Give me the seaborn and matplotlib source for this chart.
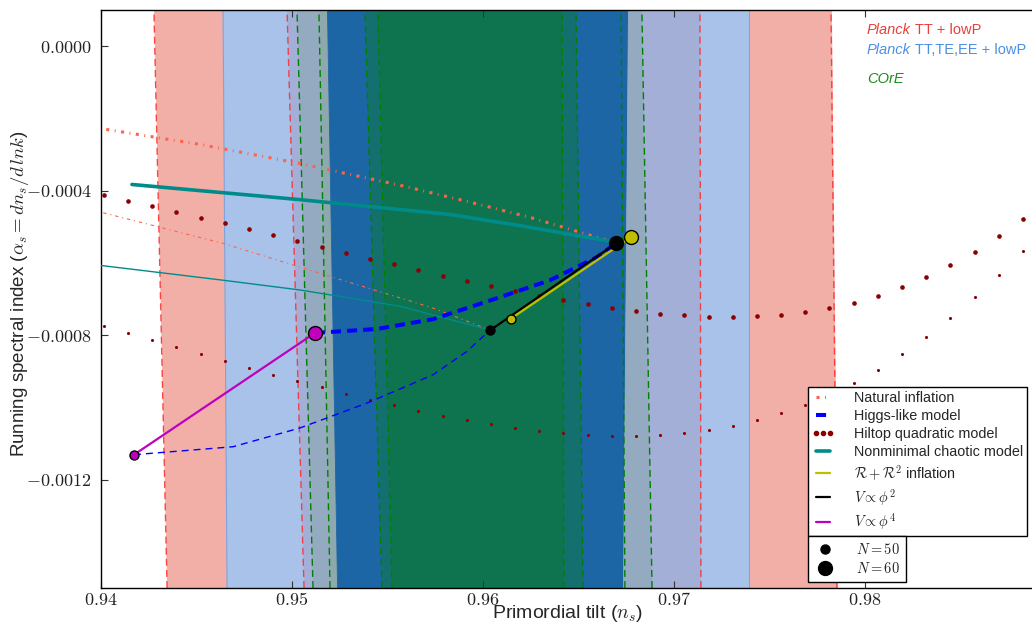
import matplotlib
matplotlib.use("Agg")
import matplotlib.pyplot as plt
from matplotlib.lines import Line2D
import seaborn as sns

sns.set_style("ticks")
plt.rcParams["font.family"] = ["Liberation Sans", "DejaVu Sans"]
plt.rcParams["mathtext.fontset"] = "cm"

# ---------------------------------------------------------------- ranges
ns_range = [0.94, 0.99]
alpha_range = [-0.0015, 0.0001]          # bottom, top

# --------------------------------------- constraint contour edges in n_s
# each edge is given as [n_s at bottom of the alpha range, n_s at top]
r95_lo = [0.94346, 0.94277]
tte95_lo = [0.94660, 0.94639]
r68_lo = [0.95063, 0.94974]
c95a_lo = [0.95110, 0.95026]
c95b_lo = [0.95199, 0.95141]
tte68_lo = [0.95236, 0.95183]
c68a_lo = [0.95471, 0.95382]
c68b_lo = [0.95524, 0.95450]
c68b_hi = [0.96424, 0.96414]
c68a_hi = [0.96524, 0.96487]
c95b_hi = [0.96743, 0.96723]
tte68_hi = [0.96733, 0.96759]
c95a_hi = [0.96885, 0.96832]
r68_hi = [0.97141, 0.97136]
tte95_hi = [0.97393, 0.97393]
r95_hi = [0.97853, 0.97822]

LIGHT_RED = "#F2AFA8"
LIGHT_BLUE = "#A8C2EA"
LAVENDER = "#A4AFD8"
GREY = "#94AAC0"
GREY_GREEN = "#8EA9AE"
DARK_BLUE = "#1C66A6"
TEAL = "#13706E"
GREEN = "#0E744F"

strips = [
    (r95_lo, tte95_lo, LIGHT_RED),
    (tte95_lo, r68_lo, LIGHT_BLUE),
    (r68_lo, c95a_lo, LAVENDER),
    (c95a_lo, c95b_lo, GREY),
    (c95b_lo, tte68_lo, GREY_GREEN),
    (tte68_lo, c68a_lo, DARK_BLUE),
    (c68a_lo, c68b_lo, TEAL),
    (c68b_lo, c68b_hi, GREEN),
    (c68b_hi, c68a_hi, TEAL),
    (c68a_hi, tte68_hi, DARK_BLUE),
    (tte68_hi, c95a_hi, GREY),
    (c95a_hi, r68_hi, LAVENDER),
    (r68_hi, tte95_hi, LIGHT_BLUE),
    (tte95_hi, r95_hi, LIGHT_RED),
]
planck_tt_edges = [r95_lo, r68_lo, r68_hi, r95_hi]
core_edges = [c95a_lo, c95b_lo, c68a_lo, c68b_lo, c68b_hi, c68a_hi, c95b_hi, c95a_hi]
planck_pol_edges = [tte95_lo, tte95_hi]

# ------------------------------------------------------------ model data
# Natural inflation
nat60_ns = [0.9395, 0.94518, 0.95042, 0.95565, 0.95895, 0.96246, 0.96665]
nat60_as = [-0.000224, -0.000272, -0.000325, -0.000385, -0.000427, -0.000474, -0.000540]
nat50_ns = [0.9395, 0.94639, 0.95215, 0.95738, 0.96037]
nat50_as = [-0.000453, -0.000546, -0.000640, -0.000725, -0.000786]

# Higgs-like model
higgs60_ns = [0.95120, 0.95445, 0.95738, 0.96089, 0.96351, 0.96597, 0.96696]
higgs60_as = [-0.000794, -0.000783, -0.000756, -0.000695, -0.000648, -0.000584, -0.000546]
higgs50_ns = [0.94173, 0.94691, 0.95042, 0.95393, 0.95738, 0.95916, 0.96037]
higgs50_as = [-0.001131, -0.001109, -0.001057, -0.000988, -0.000910, -0.000845, -0.000786]

# Hilltop quadratic model
hill_ns = [0.94015, 0.94141, 0.94268, 0.94395, 0.94522, 0.94648, 0.94775, 0.94901,
           0.95028, 0.95155, 0.95281, 0.95408, 0.95535, 0.95661, 0.95788, 0.95915,
           0.96041, 0.96168, 0.96294, 0.96421, 0.96548, 0.96674, 0.96801, 0.96928,
           0.97054, 0.97181, 0.97307, 0.97434, 0.97561, 0.97687, 0.97814, 0.97941,
           0.98067, 0.98194, 0.98320, 0.98447, 0.98574, 0.98700, 0.98827]
hill60_as = [-0.000413, -0.000430, -0.000443, -0.000460, -0.000477, -0.000490, -0.000507,
             -0.000523, -0.000540, -0.000557, -0.000573, -0.000590, -0.000604, -0.000620,
             -0.000637, -0.000651, -0.000664, -0.000678, -0.000692, -0.000703, -0.000714,
             -0.000725, -0.000733, -0.000742, -0.000744, -0.000750, -0.000750, -0.000747,
             -0.000744, -0.000736, -0.000725, -0.000711, -0.000692, -0.000667, -0.000640,
             -0.000606, -0.000570, -0.000526, -0.000479]
hill50_as = [-0.000775, -0.000794, -0.000814, -0.000833, -0.000852, -0.000872, -0.000891,
             -0.000910, -0.000927, -0.000943, -0.000963, -0.000979, -0.000993, -0.001010,
             -0.001023, -0.001035, -0.001046, -0.001057, -0.001065, -0.001070, -0.001076,
             -0.001079, -0.001079, -0.001076, -0.001070, -0.001062, -0.001051, -0.001035,
             -0.001015, -0.000993, -0.000965, -0.000932, -0.000896, -0.000852, -0.000805,
             -0.000753, -0.000695, -0.000634, -0.000568]

# Nonminimal chaotic model
nmc60_ns = [0.94162, 0.95042, 0.95827, 0.96194, 0.96665]
nmc60_as = [-0.000383, -0.000425, -0.000466, -0.000497, -0.000540]
nmc50_ns = [0.9395, 0.94639, 0.95042, 0.95565, 0.96037]
nmc50_as = [-0.000604, -0.000648, -0.000675, -0.000720, -0.000786]

# Single-field benchmarks, [N=50, N=60]
r2_ns = [0.96147, 0.96775]
r2_as = [-0.000754, -0.000529]
phi2_ns = [0.96039, 0.96696]
phi2_as = [-0.000786, -0.000546]
phi4_ns = [0.94173, 0.95120]
phi4_as = [-0.001131, -0.000794]

model_labels = ["Natural inflation", "Higgs-like model", "Hiltop quadratic model",
                "Nonminimal chaotic model", r"$\mathcal{R}+\mathcal{R}^2$ inflation",
                r"$V\propto\phi^2$", r"$V\propto\phi^4$"]
efold_labels = [r"$N=50$", r"$N=60$"]

x_ticks = [0.94, 0.95, 0.96, 0.97, 0.98]
x_tick_labels = ["$0.94$", "$0.95$", "$0.96$", "$0.97$", "$0.98$"]
y_ticks = [0.0, -0.0004, -0.0008, -0.0012]
y_tick_labels = ["$0.0000$", "$-0.0004$", "$-0.0008$", "$-0.0012$"]

C_NAT = "#FF6347"
C_HIGGS = "#0000FF"
C_HILL = "#8B0000"
C_NMC = "#008B8B"
C_R2 = "#BFBF00"
C_PHI2 = "#000000"
C_PHI4 = "#BF00BF"

NAT_THICK = (0, (1, 1.8, 0.3, 1.8))
NAT_THIN = (0, (3, 3.5, 1, 3.5))
HIGGS_THICK = (0, (2.5, 1.5))
HIGGS_THIN = (0, (5, 3.6))

# ---------------------------------------------------------------- figure
fig = plt.figure(figsize=(10.32, 6.23), dpi=100)
ax = fig.add_axes([101 / 1032, 35 / 623, 955 / 1032, 578 / 623])


def curve(x, y, **kw):
    sns.lineplot(x=x, y=y, sort=False, estimator=None, ax=ax, legend=False, **kw)


def dots(x, y, **kw):
    sns.scatterplot(x=x, y=y, ax=ax, legend=False, **kw)


# observational constraint bands
for left, right, col in strips:
    ax.fill_betweenx(alpha_range, left, right, color=col, lw=0.6, edgecolor=col, zorder=0)
for edge in planck_pol_edges:
    curve(edge, alpha_range, color="#7FA3DA", lw=0.8, zorder=1)
for edge in planck_tt_edges:
    curve(edge, alpha_range, color="#FF2A2A", lw=1.0, linestyle=(0, (5, 3)), alpha=0.85, zorder=1)
for edge in core_edges:
    curve(edge, alpha_range, color="#008000", lw=1.0, linestyle=(0, (5, 3)), zorder=1)

# hilltop quadratic
dots(hill_ns, hill60_as, s=11, color=C_HILL, linewidth=0, zorder=2)
dots(hill_ns, hill50_as, s=5, color=C_HILL, linewidth=0, zorder=2)

# natural inflation
curve(nat60_ns, nat60_as, color=C_NAT, lw=2.2, linestyle=NAT_THICK, zorder=3)
curve(nat50_ns, nat50_as, color=C_NAT, lw=0.8, linestyle=NAT_THIN, zorder=3)

# nonminimal chaotic
curve(nmc60_ns, nmc60_as, color=C_NMC, lw=2.6, zorder=3)
curve(nmc50_ns, nmc50_as, color=C_NMC, lw=1.0, zorder=3)

# Higgs-like
curve(higgs60_ns, higgs60_as, color=C_HIGGS, lw=2.9, linestyle=HIGGS_THICK, zorder=3)
curve(higgs50_ns, higgs50_as, color=C_HIGGS, lw=1.0, linestyle=HIGGS_THIN, zorder=3)

# single-field benchmarks
curve(phi4_ns, phi4_as, color=C_PHI4, lw=1.6, zorder=3)
curve(phi2_ns, phi2_as, color=C_PHI2, lw=1.6, zorder=3)
curve(r2_ns, r2_as, color=C_R2, lw=1.6, zorder=3.1)
for xs, ys, col in [(phi4_ns, phi4_as, C_PHI4), (phi2_ns, phi2_as, C_PHI2), (r2_ns, r2_as, C_R2)]:
    dots(xs[:1], ys[:1], s=42, color=col, edgecolor="k", linewidth=1, zorder=4)
    dots(xs[1:], ys[1:], s=100, color=col, edgecolor="k", linewidth=1, zorder=4)

# ---------------------------------------------------------------- axes
ax.set_xlim(*ns_range)
ax.set_ylim(*alpha_range)
ax.set_xticks(x_ticks)
ax.set_xticklabels(x_tick_labels)
ax.set_yticks(y_ticks)
ax.set_yticklabels(y_tick_labels)
ax.tick_params(direction="in", top=True, right=True, length=5, width=0.8,
               labelsize=13, colors="#333333", labelcolor="#222222")
ax.tick_params(axis="y", pad=7)
ax.tick_params(axis="x", pad=3)
for sp in ax.spines.values():
    sp.set_color("k")
    sp.set_linewidth(1.0)
ax.set_xlabel(r"Primordial tilt ($n_s$)", fontsize=14, va="top")
ax.xaxis.set_label_coords(0.489, -0.026)
ax.set_ylabel(r"Running spectral index ($\alpha_s = dn_s/d\,lnk$)", fontsize=13.5)
ax.yaxis.set_label_coords(-0.073, 0.51)

# dataset annotations
ann = [("Planck", " TT + lowP", "#E8403A", 30),
       ("Planck", " TT,TE,EE + lowP", "#4A90E2", 50)]
for head, tail, col, ypx in ann:
    t = fig.text(867 / 1032, 1 - ypx / 623, head, style="italic", color=col,
                 fontsize=10.5, va="center", ha="left")
    ax.annotate(tail, xy=(1, 0), xycoords=t, va="bottom", ha="left",
                color=col, fontsize=10.5)
fig.text(867 / 1032, 1 - 79 / 623, "COrE", style="italic", color="#1A8C1A",
         fontsize=10.5, va="center", ha="left")

# ---------------------------------------------------------------- legends
model_handles = [
    Line2D([], [], color=C_NAT, lw=2.2, linestyle=NAT_THICK),
    Line2D([], [], color=C_HIGGS, lw=2.9, linestyle=HIGGS_THICK),
    Line2D([], [], color=C_HILL, linestyle="None", marker="o", ms=3),
    Line2D([], [], color=C_NMC, lw=2.6),
    Line2D([], [], color=C_R2, lw=1.6),
    Line2D([], [], color=C_PHI2, lw=1.6),
    Line2D([], [], color=C_PHI4, lw=1.6),
]
leg_kw = dict(bbox_transform=fig.transFigure, borderaxespad=0,
              fontsize=10.4, handlelength=1.6, handletextpad=1.35, labelspacing=0.28,
              fancybox=False, framealpha=1, edgecolor="k")
leg1 = ax.legend(handles=model_handles, labels=model_labels, numpoints=3, borderpad=0.25,
                 loc="lower left", bbox_to_anchor=(808 / 1032, 1 - 536 / 623), **leg_kw)
leg1.get_frame().set_linewidth(1.0)
ax.add_artist(leg1)

efold_handles = [
    Line2D([], [], color="k", linestyle="None", marker="o", ms=6.5),
    Line2D([], [], color="k", linestyle="None", marker="o", ms=10),
]
leg2 = ax.legend(handles=efold_handles, labels=efold_labels, numpoints=1, borderpad=0.4,
                 loc="upper left", bbox_to_anchor=(808 / 1032, 1 - 536 / 623), **leg_kw)
leg2.get_frame().set_linewidth(1.0)

fig.savefig("out.png", dpi=100)
